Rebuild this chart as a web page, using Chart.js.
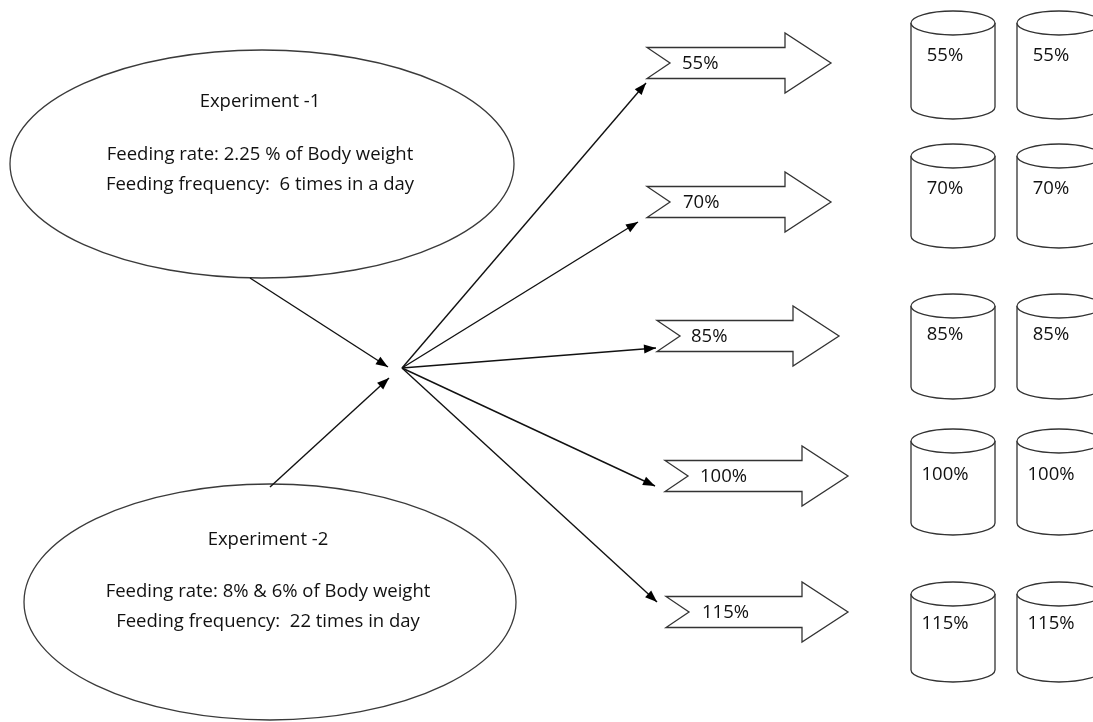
<!DOCTYPE html>
<html>
<head>
<meta charset="utf-8">
<script src="https://cdn.jsdelivr.net/npm/chart.js@4.4.0/dist/chart.umd.min.js"></script>
<style>
html,body{margin:0;padding:0;background:#fff;}
#wrap{width:1093px;height:722px;position:relative;}
</style>
</head>
<body>
<div id="wrap"><canvas id="flow"></canvas></div>
<script>
// feeding levels (% of satiation) tested, 2 tanks each
const levels = ['55%','70%','85%','100%','115%'];
const tanksPerLevel = 2;
const experimentNames = ['Experiment -1','Experiment -2'];
const feedingRates = ['Feeding rate: 2.25 % of Body weight','Feeding rate: 8% & 6% of Body weight'];
const feedingFreqs = ['Feeding frequency:  6 times in a day','Feeding frequency:  22 times in day'];

// layout, in chart units (x 0..1093 left->right, y 0..722 top->down)
const W = 1093, H = 722;
const hub = {x:402, y:368};
const expBox = [
  {cx:262, cy:164, rx:252, ry:114, textX:260, lines:[102,155,185]},
  {cx:270, cy:602, rx:246, ry:118, textX:268, lines:[540,592,622]}
];
const expLinkFrom = [[250,278],[270,487]];
const expLinkTo = [[388,367],[389,378]];
const levelLinkTo = [[646,83],[638,222],[656,348],[655,486],[657,602]];
const arrowY = [63,202,336,476,612];
const arrowBack = [647,647,657,665,666];
const arrowTip = [831,831,839,848,848];
const arrowTextX = [682,683,691,700,702];
const tankTop = [23,156,306,441,594];
const tankBottom = [107,236,387,523,670];
const tankX = [953,1059];
const tankTextY = [56,189,335,475,624];

const FONT = '18.5px "Open Sans", "Noto Sans", sans-serif';
const INK = '#111';

// connector datasets
const links = [];
expLinkFrom.forEach((p,i)=>{
  links.push({data:[{x:p[0],y:p[1]},{x:expLinkTo[i][0],y:expLinkTo[i][1]}]});
});
levels.forEach((l,i)=>{
  links.push({label:l, data:[{x:hub.x,y:hub.y},{x:levelLinkTo[i][0],y:levelLinkTo[i][1]}]});
});
links.forEach(d=>{ d.showLine=true; d.borderColor='#111'; d.borderWidth=1.4; d.pointRadius=0; d.clip=false; });

// arrowheads at end of each connector
const arrowHeads = {
  id:'arrowHeads',
  afterDatasetsDraw(chart){
    const ctx = chart.ctx;
    chart.data.datasets.forEach((d,i)=>{
      const pts = chart.getDatasetMeta(i).data;
      const a = pts[pts.length-2], b = pts[pts.length-1];
      const ang = Math.atan2(b.y-a.y, b.x-a.x);
      ctx.save();
      ctx.translate(b.x,b.y); ctx.rotate(ang);
      ctx.beginPath(); ctx.moveTo(0,0); ctx.lineTo(-12,-4.5); ctx.lineTo(-12,4.5); ctx.closePath();
      ctx.fillStyle='#000'; ctx.fill();
      ctx.restore();
    });
  }
};

// ellipses, block arrows and tanks
const shapes = {
  id:'shapes',
  beforeDatasetsDraw(chart){
    const ctx = chart.ctx, sx = chart.scales.x, sy = chart.scales.y;
    const X = v=>sx.getPixelForValue(v), Y = v=>sy.getPixelForValue(v);
    ctx.save();
    ctx.textAlign='center'; ctx.textBaseline='middle'; ctx.font=FONT;

    // experiment ellipses
    expBox.forEach((e,i)=>{
      ctx.beginPath();
      ctx.ellipse(X(e.cx), Y(e.cy), X(e.cx+e.rx)-X(e.cx), Y(e.cy+e.ry)-Y(e.cy), 0, 0, Math.PI*2);
      ctx.fillStyle='#fff'; ctx.fill();
      ctx.lineWidth=1.3; ctx.strokeStyle='#3a3a3a'; ctx.stroke();
      ctx.fillStyle=INK;
      ctx.fillText(experimentNames[i], X(e.textX), Y(e.lines[0]));
      ctx.fillText(feedingRates[i], X(e.textX), Y(e.lines[1]));
      ctx.fillText(feedingFreqs[i], X(e.textX), Y(e.lines[2]));
    });

    levels.forEach((lab,i)=>{
      // block arrow
      const cy = arrowY[i], bx = arrowBack[i], tx = arrowTip[i];
      const hx = tx-46;
      ctx.beginPath();
      ctx.moveTo(X(bx), Y(cy-15.5));
      ctx.lineTo(X(hx), Y(cy-15.5));
      ctx.lineTo(X(hx), Y(cy-30));
      ctx.lineTo(X(tx), Y(cy));
      ctx.lineTo(X(hx), Y(cy+30));
      ctx.lineTo(X(hx), Y(cy+15.5));
      ctx.lineTo(X(bx), Y(cy+15.5));
      ctx.lineTo(X(bx+23), Y(cy));
      ctx.closePath();
      ctx.fillStyle='#fff'; ctx.fill();
      ctx.lineWidth=1.3; ctx.strokeStyle='#333'; ctx.stroke();
      ctx.fillStyle=INK; ctx.textAlign='left';
      ctx.fillText(lab, X(arrowTextX[i]), Y(cy+1));
      ctx.textAlign='center';

      // tanks
      for(let k=0;k<tanksPerLevel;k++){
        const cx = X(tankX[k]), rx = X(tankX[k]+42)-cx;
        const t = Y(tankTop[i]), b = Y(tankBottom[i]), ry = Y(tankTop[i]+12)-t;
        ctx.beginPath();
        ctx.moveTo(cx-rx, t); ctx.lineTo(cx-rx, b);
        ctx.ellipse(cx, b, rx, ry, 0, Math.PI, 0, true);
        ctx.lineTo(cx+rx, t);
        ctx.fillStyle='#fff'; ctx.fill();
        ctx.lineWidth=1.3; ctx.strokeStyle='#333'; ctx.stroke();
        ctx.beginPath(); ctx.ellipse(cx, t, rx, ry, 0, 0, Math.PI*2);
        ctx.fill(); ctx.stroke();
        ctx.fillStyle=INK;
        ctx.fillText(lab, cx-8, Y(tankTextY[i]));
      }
    });
    ctx.restore();
  }
};

new Chart(document.getElementById('flow'), {
  type:'scatter',
  data:{datasets:links},
  options:{
    responsive:true, maintainAspectRatio:false, animation:false,
    layout:{padding:0},
    plugins:{legend:{display:false}, tooltip:{enabled:false}},
    scales:{
      x:{type:'linear', min:0, max:W, display:false},
      y:{type:'linear', min:0, max:H, reverse:true, display:false}
    }
  },
  plugins:[shapes, arrowHeads]
});
</script>
</body>
</html>
